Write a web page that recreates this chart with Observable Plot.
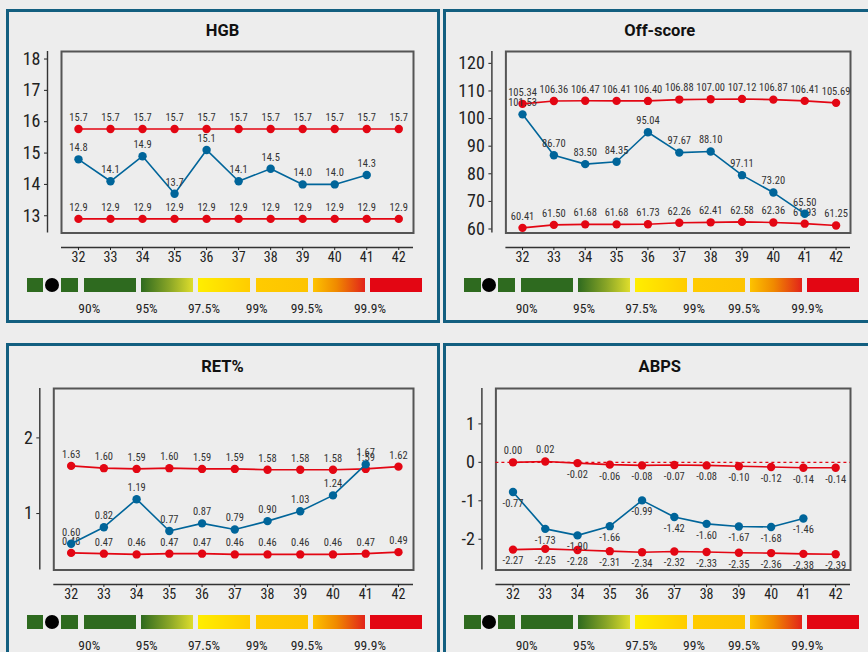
<!DOCTYPE html>
<html><head><meta charset="utf-8">
<script src="https://cdn.jsdelivr.net/npm/d3@7"></script>
<script src="https://cdn.jsdelivr.net/npm/@observablehq/plot@0.6"></script>
<style>
html,body{margin:0;padding:0;background:#ededed;}
body{width:868px;height:652px;overflow:hidden;position:relative;font-family:"Roboto Condensed","Liberation Sans Narrow","Arial Narrow","DejaVu Sans Condensed",Roboto,sans-serif;color:#222;}
.border{position:absolute;border:3px solid #135f80;box-sizing:border-box;width:434px;height:314px;}
.title{position:absolute;width:200px;margin-left:-100px;text-align:center;font:bold 16.5px Roboto,sans-serif;color:#111;line-height:20px;margin-top:-10px;}
.chart{position:absolute;}
.lg{position:absolute;height:14px;}
.lgl{position:absolute;width:50px;margin-left:-25px;text-align:center;font-size:13.5px;line-height:16px;margin-top:-8px;color:#222;}
</style>
</head><body>
<script>
// ---- data ----
const weeks = [32, 33, 34, 35, 36, 37, 38, 39, 40, 41, 42];

const hgbUpper = [15.77, 15.77, 15.77, 15.77, 15.77, 15.77, 15.77, 15.77, 15.77, 15.77, 15.77];
const hgbUpperLabels = ["15.7", "15.7", "15.7", "15.7", "15.7", "15.7", "15.7", "15.7", "15.7", "15.7", "15.7"];
const hgbLower = [12.9, 12.9, 12.9, 12.9, 12.9, 12.9, 12.9, 12.9, 12.9, 12.9, 12.9];
const hgbValues = [14.8, 14.1, 14.9, 13.7, 15.1, 14.1, 14.5, 14.0, 14.0, 14.3];
const hgbTicks = [13, 14, 15, 16, 17, 18];

const offUpper = [105.34, 106.36, 106.47, 106.41, 106.40, 106.88, 107.00, 107.12, 106.87, 106.41, 105.69];
const offLower = [60.41, 61.50, 61.68, 61.68, 61.73, 62.26, 62.41, 62.58, 62.36, 61.93, 61.25];
const offValues = [101.53, 86.70, 83.50, 84.35, 95.04, 87.67, 88.10, 79.50, 73.20, 65.50];
const offValueLabels = ["101.53", "86.70", "83.50", "84.35", "95.04", "97.67", "88.10", "97.11", "73.20", "65.50"];
const offTicks = [60, 70, 80, 90, 100, 110, 120];

const retUpper = [1.63, 1.60, 1.59, 1.60, 1.59, 1.59, 1.58, 1.58, 1.58, 1.59, 1.62];
const retLower = [0.48, 0.47, 0.46, 0.47, 0.47, 0.46, 0.46, 0.46, 0.46, 0.47, 0.49];
const retValues = [0.60, 0.82, 1.19, 0.77, 0.87, 0.79, 0.90, 1.03, 1.24, 1.65];
const retValueLabels = ["0.60", "0.82", "1.19", "0.77", "0.87", "0.79", "0.90", "1.03", "1.24", "1.67"];
const retTicks = [1, 2];

const abpsUpper = [0.00, 0.02, -0.02, -0.06, -0.08, -0.07, -0.08, -0.10, -0.12, -0.14, -0.14];
const abpsLower = [-2.27, -2.25, -2.28, -2.31, -2.34, -2.32, -2.33, -2.35, -2.36, -2.38, -2.39];
const abpsValues = [-0.77, -1.73, -1.90, -1.66, -0.99, -1.42, -1.60, -1.67, -1.68, -1.46];
const abpsTicks = [-2, -1, 0, 1];

const legendLabels = ["90%", "95%", "97.5%", "99%", "99.5%", "99.9%"];

// ---- styling / layout ----
const RED = "#e30613", BLUE = "#00659a";
const FONT = '"Roboto Condensed","Liberation Sans Narrow","Arial Narrow","DejaVu Sans Condensed",Roboto,sans-serif';
const XDOM = [31.47, 42.46];

const panels = [
  {title: "HGB", colX: 0, rowY: 0, borderY: 9, frameLeft: 61, yDomain: [12.45, 18.24], yTicks: hgbTicks, dec: 1,
   series: [[hgbUpper, hgbUpperLabels, RED], [hgbLower, null, RED], [hgbValues, null, BLUE]]},
  {title: "Off-score", colX: 437.3, rowY: 0, borderY: 9, frameLeft: 68.4, yDomain: [58.55, 124.3], yTicks: offTicks, dec: 2,
   series: [[offUpper, null, RED], [offLower, null, RED], [offValues, offValueLabels, BLUE]]},
  {title: "RET%", colX: 0, rowY: 336.8, borderY: 343.3, frameLeft: 53.3, yDomain: [0.254, 2.653], yTicks: retTicks, dec: 2,
   series: [[retUpper, null, RED], [retLower, null, RED], [retValues, retValueLabels, BLUE]]},
  {title: "ABPS", colX: 437.3, rowY: 336.8, borderY: 343.3, frameLeft: 58.4, yDomain: [-2.80, 1.92], yTicks: abpsTicks, dec: 2, zero: true,
   series: [[abpsUpper, null, RED], [abpsLower, null, RED], [abpsValues, null, BLUE]]}
];

const legendBars = [
  {x: 84, bg: "#2e6a1f"},
  {x: 141, bg: "linear-gradient(to right,#2e6a1f,#8aa627 55%,#dedd2c)"},
  {x: 198, bg: "linear-gradient(to right,#ffee00,#ffcc00)"},
  {x: 256, bg: "linear-gradient(to right,#ffcb00,#fdc400)"},
  {x: 313, bg: "linear-gradient(to right,#fdc300,#f08a00 45%,#e2231a)"},
  {x: 370, bg: "#e30613"}
];
const legendLabelX = [89.3, 146.7, 204, 256.7, 306.7, 370];

function el(tag, cls, style, text) {
  const e = document.createElement(tag);
  if (cls) e.className = cls;
  Object.assign(e.style, style);
  if (text != null) e.textContent = text;
  document.body.appendChild(e);
  return e;
}

for (const p of panels) {
  el("div", "border", {left: (p.colX + 6) + "px", top: p.borderY + "px"});
  el("div", "title", {left: (p.colX + 222.5) + "px", top: (p.rowY + 30.5) + "px"}, p.title);

  const svgLeft = p.colX + 10, svgTop = p.rowY + 38;
  const marks = [
    Plot.frame({stroke: "#555", strokeWidth: 2}),
    Plot.ruleX([XDOM[0]], {dx: -14, stroke: "#333", strokeWidth: 1.4}),
    Plot.axisY(p.yTicks, {dx: -14, tickSize: 3, tickPadding: 4, fontSize: 18, label: null, tickFormat: d => String(d)}),
    Plot.ruleY([p.yDomain[0]], {dy: 14.5, stroke: "#333", strokeWidth: 1.4}),
    Plot.axisX(weeks, {dy: 14.5, tickSize: 3, tickPadding: 2, fontSize: 14, label: null, tickFormat: d => String(d)})
  ];
  if (p.zero) marks.push(Plot.ruleY([0], {stroke: RED, strokeWidth: 1.3, strokeDasharray: "3,3"}));
  for (const [vals, labels, color] of p.series) {
    const rows = vals.map((v, i) => ({week: weeks[i], v, label: labels ? labels[i] : v.toFixed(p.dec)}));
    marks.push(Plot.line(rows, {x: "week", y: "v", stroke: color, strokeWidth: 1.6}));
    marks.push(Plot.dot(rows, {x: "week", y: "v", r: 4.2, fill: color}));
    marks.push(Plot.text(rows.filter(d => d.v >= 0), {x: "week", y: "v", text: "label", dy: -11.5, fontSize: 10.5, fill: "#333"}));
    marks.push(Plot.text(rows.filter(d => d.v < 0), {x: "week", y: "v", text: "label", dy: 11.5, fontSize: 10.5, fill: "#333"}));
  }
  const chart = Plot.plot({
    width: 426, height: 240,
    marginLeft: p.frameLeft - 10, marginRight: 23, marginTop: 13, marginBottom: 45.5,
    style: {background: "transparent", fontFamily: FONT, color: "#222", overflow: "visible"},
    x: {domain: XDOM, label: null},
    y: {domain: p.yDomain, label: null},
    marks
  });
  chart.classList.add("chart");
  chart.style.left = svgLeft + "px";
  chart.style.top = svgTop + "px";
  document.body.appendChild(chart);

  // legend
  el("div", "lg", {left: (p.colX + 26.7) + "px", top: (p.rowY + 278) + "px", width: "16.6px", background: "#2e6a1f"});
  el("div", "lg", {left: (p.colX + 60.7) + "px", top: (p.rowY + 278) + "px", width: "17px", background: "#2e6a1f"});
  el("div", "lg", {left: (p.colX + 44.7) + "px", top: (p.rowY + 278) + "px", width: "14px", borderRadius: "50%", background: "#000"});
  for (const b of legendBars) {
    el("div", "lg", {left: (p.colX + b.x) + "px", top: (p.rowY + 278) + "px", width: "52px", background: b.bg});
  }
  legendLabels.forEach((t, i) => {
    el("div", "lgl", {left: (p.colX + legendLabelX[i]) + "px", top: (p.rowY + 308) + "px"}, t);
  });
}
</script>
</body></html>
